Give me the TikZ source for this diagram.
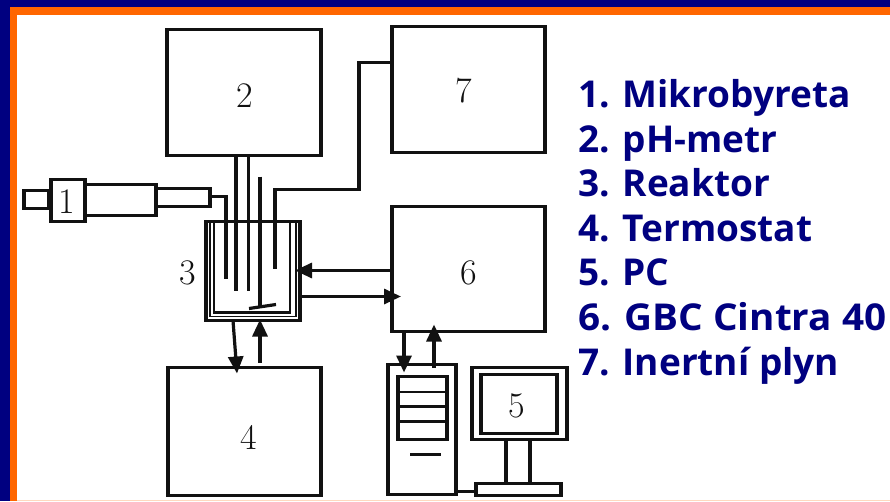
\documentclass[tikz,border=0pt]{standalone}
\usepackage{fontspec}
\setmainfont[BoldFont={Open Sans Bold}]{Open Sans}
\newfontfamily\numfont{Latin Modern Roman}
\usetikzlibrary{arrows.meta}
\definecolor{navyb}{HTML}{000080}
\definecolor{orangeb}{HTML}{FF6600}
\definecolor{ink}{HTML}{111111}
\tikzset{
 box/.style={draw=ink,line width=3.2pt,fill=none,inner sep=0pt,outer sep=0pt,anchor=north west},
 thin box/.style={box,line width=1.6pt},
 inner box/.style={box,line width=2.6pt},
 wire/.style={draw=ink,line width=3.2pt},
 flow/.style={wire,-{Triangle[length=17pt,width=15pt]}},
 num/.style={font=\numfont\fontsize{36}{36}\selectfont,text=ink,inner sep=0pt},
 legend/.style={anchor=base west,inner sep=0pt,text=navyb,font=\fontsize{37}{37}\selectfont\bfseries}
}
\begin{document}
\begin{tikzpicture}[x=1pt,y=-1pt]
\useasboundingbox (0,0) rectangle (890,501);
% frame
\fill[white] (0,0) rectangle (890,501);
\fill[orangeb!25] (17,499.5) rectangle (890,501);
\fill[orangeb] (10,7) rectangle (890,15);
\fill[orangeb] (10,7) rectangle (17,501);
\fill[navyb] (0,0) rectangle (890,7);
\fill[navyb] (0,0) rectangle (10,501);
\begin{scope}[shift={(1,0.5)}]
% main boxes
\node[box,minimum width=154pt,minimum height=126pt] (b2) at (166,29) {};
\node[box,minimum width=153pt,minimum height=126pt] (b7) at (391,26) {};
\node[box,minimum width=153pt,minimum height=125pt] (b6) at (391,206) {};
\node[box,minimum width=153pt,minimum height=128pt] (b4) at (167,367) {};
\node[num] (n2) at (244,95) {2};
\node[num] (n7) at (463,90) {7};
\node[num] (n6) at (468,272) {6};
\node[num] (n4) at (248,437) {4};
% syringe
\node[box,minimum width=25pt,minimum height=18pt] (s0) at (23,190) {};
\node[box,minimum width=34pt,minimum height=42pt] (b1) at (50,179) {};
\node[num] (n1) at (66,201) {1};
\node[box,minimum width=71pt,minimum height=31pt] (s1) at (84,184) {};
\node[box,minimum width=54pt,minimum height=18pt] (s2) at (155,188) {};
% reactor
\node[box,minimum width=94pt,minimum height=99pt] (r) at (205,221) {};
\node[thin box,minimum width=86pt,minimum height=95pt] (r1) at (209,221) {};
\node[inner box,minimum width=76pt,minimum height=91pt] (r2) at (213,221) {};
\node[num] (n3) at (187,272) {3};
% wires into reactor
\coordinate (t0) at (209,196);
\coordinate (t1) at (225,278);
\coordinate (e1a) at (235,155); \coordinate (e1b) at (235,290);
\coordinate (e2a) at (247.5,155); \coordinate (e2b) at (247.5,290);
\coordinate (st) at (259,176); \coordinate (sb) at (259,305);
\coordinate (g) at (274,268);
\coordinate (bar1) at (248,308); \coordinate (bar2) at (275,304);
\draw[wire] (t0) -| (t1);
\draw[wire] (e1a) -- (e1b);
\draw[wire] (e2a) -- (e2b);
\draw[wire] (st) -- (sb);
\draw[wire] (bar1) -- (bar2);
\draw[wire] (g) -- (274,189) -- (358,189) -- (358,62) -- (391,62);
% flows
\coordinate (f1) at (391,270); \coordinate (f2) at (294,270);
\coordinate (f3) at (299,296); \coordinate (f4) at (400,296);
\coordinate (f5) at (232,320); \coordinate (f6) at (236,373);
\coordinate (f7) at (259,362); \coordinate (f8) at (259,319);
\draw[flow] (f1) -- (f2);
\draw[flow] (f3) -- (f4);
\draw[flow] (f5) -- (f6);
\draw[flow] (f7) -- (f8);
% PC tower
\node[box,minimum width=68pt,minimum height=130pt] (pc) at (387,364) {};
\node[box,minimum width=49pt,minimum height=63pt] (dr) at (397,376) {};
\foreach \y in {391.5,406,421}{\draw[wire,line width=2.4pt] (399,\y) -- (444,\y);}
\draw[wire,line width=2.6pt] (409,454) -- (440,454);
\coordinate (f9) at (403,331); \coordinate (f10) at (403,372);
\coordinate (f11) at (433,367); \coordinate (f12) at (433,324);
\draw[flow] (f9) -- (f10);
\draw[flow] (f11) -- (f12);
% monitor
\node[box,minimum width=95pt,minimum height=72pt] (mo) at (471,367) {};
\node[box,minimum width=76pt,minimum height=59pt] (mi) at (480,374) {};
\node[num] (n5) at (516,405) {5};
\node[box,minimum width=24pt,minimum height=44pt] (ms) at (505,439) {};
\node[box,minimum width=85pt,minimum height=12pt] (mb) at (475,483) {};
\coordinate (pcb) at (455,491); \coordinate (mbb) at (475,491);
\draw[wire] (pcb) -- (mbb);
\end{scope}
% legend
\node[legend] (l1) at (578,107) {1. Mikrobyreta};
\node[legend] (l2) at (578,152) {2. pH-metr};
\node[legend] (l3) at (578,196) {3. Reaktor};
\node[legend] (l4) at (578,241) {4. Termostat};
\node[legend] (l5) at (578,285) {5. PC};
\node[legend,xscale=1.045,transform shape] (l6) at (578,330) {6. GBC Cintra 40};
\node[legend] (l7) at (578,375) {7. Inertní plyn};
\end{tikzpicture}
\end{document}
